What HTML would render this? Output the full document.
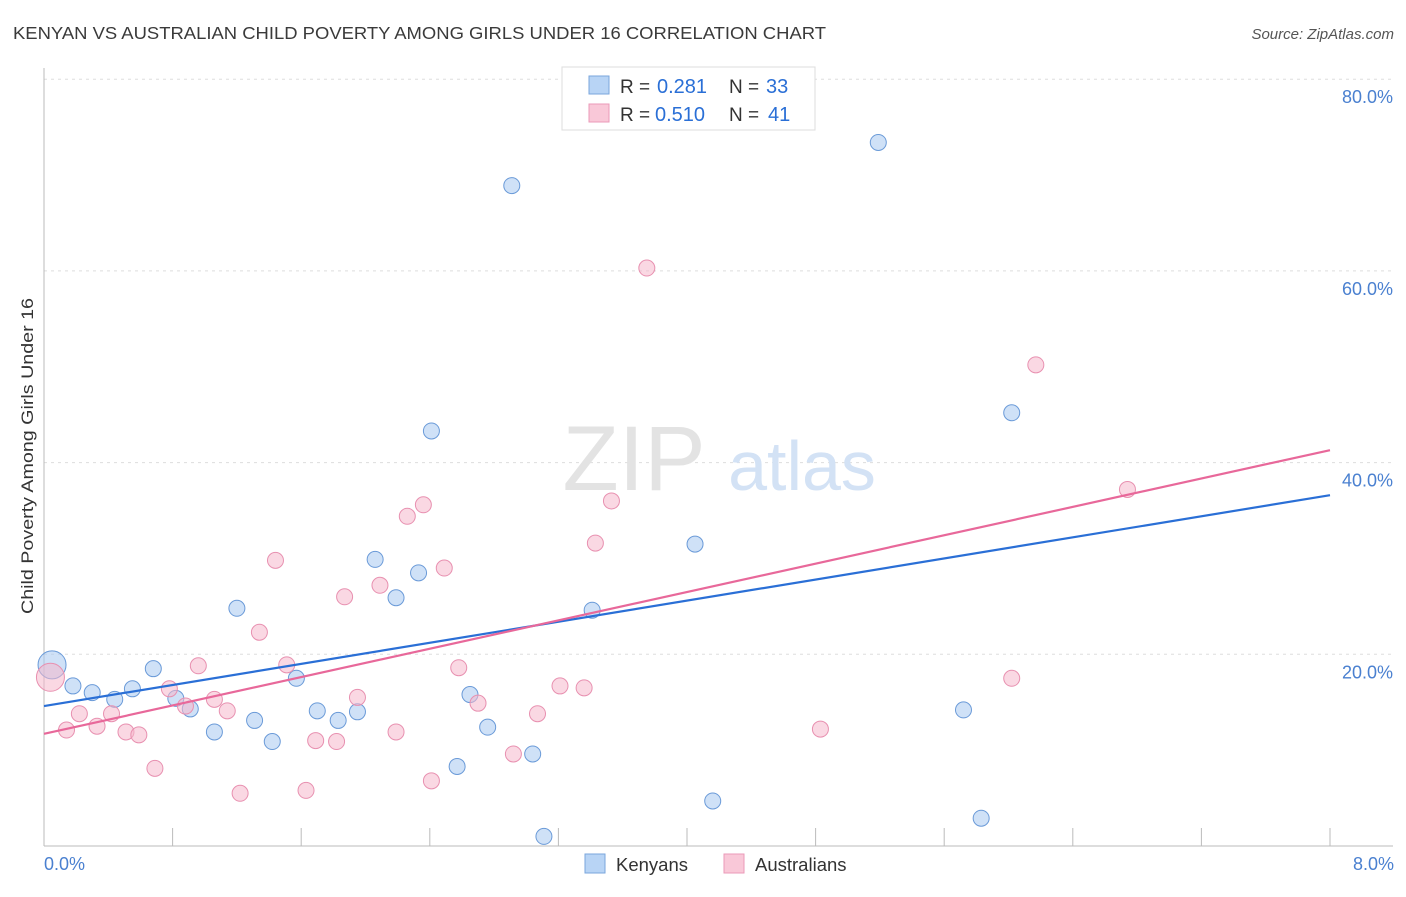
<!DOCTYPE html>
<html><head><meta charset="utf-8"><style>
body{margin:0;background:#fff;font-family:"Liberation Sans",sans-serif;}
svg text{font-family:"Liberation Sans",sans-serif;}
</style></head><body>
<svg id="chart" width="1406" height="892" xmlns="http://www.w3.org/2000/svg">
<text x="13" y="39" font-size="17.5" fill="#3a3a3a" textLength="813" lengthAdjust="spacingAndGlyphs">KENYAN VS AUSTRALIAN CHILD POVERTY AMONG GIRLS UNDER 16 CORRELATION CHART</text>
<text x="1394" y="39" font-size="15" fill="#555" text-anchor="end" font-style="italic">Source: ZipAtlas.com</text>
<g id="grid"></g>
<g>
<text x="634" y="490" font-size="92" fill="#e3e3e3" font-family="Liberation Serif,serif" text-anchor="middle">ZIP</text>
<text x="802" y="490" font-size="70" fill="#d3e2f5" text-anchor="middle">atlas</text>
</g>
<g id="marks"></g>
<text transform="translate(33,456) rotate(-90)" font-size="17" fill="#333" text-anchor="middle" textLength="316" lengthAdjust="spacingAndGlyphs">Child Poverty Among Girls Under 16</text>
<text x="44" y="870" font-size="18" fill="#4a80d0">0.0%</text>
<text x="1394" y="870" font-size="18" fill="#4a80d0" text-anchor="end">8.0%</text>
<g>
<rect x="562" y="67" width="253" height="63" fill="#fff" stroke="#ddd"/>
<rect x="589" y="76" width="20" height="18" fill="#b8d4f5" stroke="#7aa6dc"/>
<rect x="589" y="104" width="20" height="18" fill="#f9c8d8" stroke="#eb9ab8"/>
<text x="620" y="93" font-size="19" fill="#333">R =</text>
<text x="657" y="93" font-size="20" fill="#2a6fd6">0.281</text>
<text x="729" y="93" font-size="19" fill="#333">N =</text>
<text x="766" y="93" font-size="20" fill="#2a6fd6">33</text>
<text x="620" y="121" font-size="19" fill="#333">R =</text>
<text x="655" y="121" font-size="20" fill="#2a6fd6">0.510</text>
<text x="729" y="121" font-size="19" fill="#333">N =</text>
<text x="768" y="121" font-size="20" fill="#2a6fd6">41</text>
</g>
<g>
<rect x="585" y="854" width="20" height="19" fill="#b8d4f5" stroke="#7aa6dc"/>
<text x="616" y="871" font-size="18.5" fill="#333">Kenyans</text>
<rect x="724" y="854" width="20" height="19" fill="#f9c8d8" stroke="#eb9ab8"/>
<text x="755" y="871" font-size="18.5" fill="#333">Australians</text>
</g>
</svg>
<script>
const yTicks=[20,40,60,80];
const yTickLabels=["20.0%","40.0%","60.0%","80.0%"];
const xTicks=[0,0.8,1.6,2.4,3.2,4.0,4.8,5.6,6.4,7.2,8.0];
const kenX=[0.05,0.18,0.30,0.44,0.55,0.68,0.82,0.91,1.06,1.20,1.31,1.42,1.57,1.70,1.83,1.95,2.06,2.19,2.33,2.41,2.57,2.65,2.76,2.91,3.04,3.11,3.41,4.05,4.16,5.19,5.72,5.83,6.02];
const kenY=[18.9,16.7,16.0,15.3,16.4,18.5,15.4,14.3,11.9,24.8,13.1,10.9,17.5,14.1,13.1,14.0,29.9,25.9,28.5,43.3,8.3,15.8,12.4,68.9,9.6,1.0,24.6,31.5,4.7,73.4,14.2,2.9,45.2];
const ausX=[0.04,0.14,0.22,0.33,0.42,0.51,0.59,0.69,0.78,0.88,0.96,1.06,1.14,1.22,1.34,1.44,1.51,1.63,1.69,1.82,1.87,1.95,2.09,2.19,2.26,2.36,2.41,2.49,2.58,2.70,2.92,3.07,3.21,3.36,3.43,3.53,3.75,4.83,6.02,6.17,6.74];
const ausY=[17.6,12.1,13.8,12.5,13.8,11.9,11.6,8.1,16.4,14.6,18.8,15.3,14.1,5.5,22.3,29.8,18.9,5.8,11.0,10.9,26.0,15.5,27.2,11.9,34.4,35.6,6.8,29.0,18.6,14.9,9.6,13.8,16.7,16.5,31.6,36.0,60.3,12.2,17.5,50.2,37.2];
const kenTrend=[14.6,36.6];
const ausTrend=[11.7,41.3];
const NS="http://www.w3.org/2000/svg";
const X=v=>44+v*160.75, Y=v=>846-v*9.585;
function mk(t,a,p){const e=document.createElementNS(NS,t);for(const k in a)e.setAttribute(k,a[k]);p.appendChild(e);return e;}
const grid=document.getElementById('grid'),marks=document.getElementById('marks');
yTicks.forEach((t,i)=>{
 const l=mk('line',{x1:44,x2:1393,y1:Y(t),y2:Y(t),stroke:'#ddd','stroke-dasharray':'3,4'},grid);
 
 
 const tx=mk('text',{x:1393,y:Y(t)+24,'font-size':18,fill:'#4a80d0','text-anchor':'end'},grid);
 tx.textContent=yTickLabels[i];
 
 
});
const ax=mk('line',{x1:44,x2:44,y1:68,y2:846,stroke:'#bbb'},grid);


const bx=mk('line',{x1:44,x2:1393,y1:846,y2:846,stroke:'#bbb'},grid);


xTicks.forEach(t=>{
 const l=mk('line',{x1:X(t),x2:X(t),y1:828,y2:846,stroke:'#bbb'},grid);
 
 
});
function pts(xs,ys,fill,stroke,name){
 xs.forEach((x,i)=>{
  const r=i==0?14:8;
  const c=mk('circle',{cx:X(x),cy:Y(ys[i]),r:r,fill:fill,'fill-opacity':0.55,stroke:stroke,'stroke-width':1},marks);
  
  
 });
}
pts(kenX,kenY,'#a8c8f0','#6a9ad8','kenyan-point');
pts(ausX,ausY,'#f5b8cc','#e890b0','australian-point');
const l1=mk('line',{x1:X(0),x2:X(8),y1:Y(kenTrend[0]),y2:Y(kenTrend[1]),stroke:'#2a6fd6','stroke-width':2.2},marks);


const l2=mk('line',{x1:X(0),x2:X(8),y1:Y(ausTrend[0]),y2:Y(ausTrend[1]),stroke:'#e8689a','stroke-width':2.2},marks);


</script>
</body></html>
